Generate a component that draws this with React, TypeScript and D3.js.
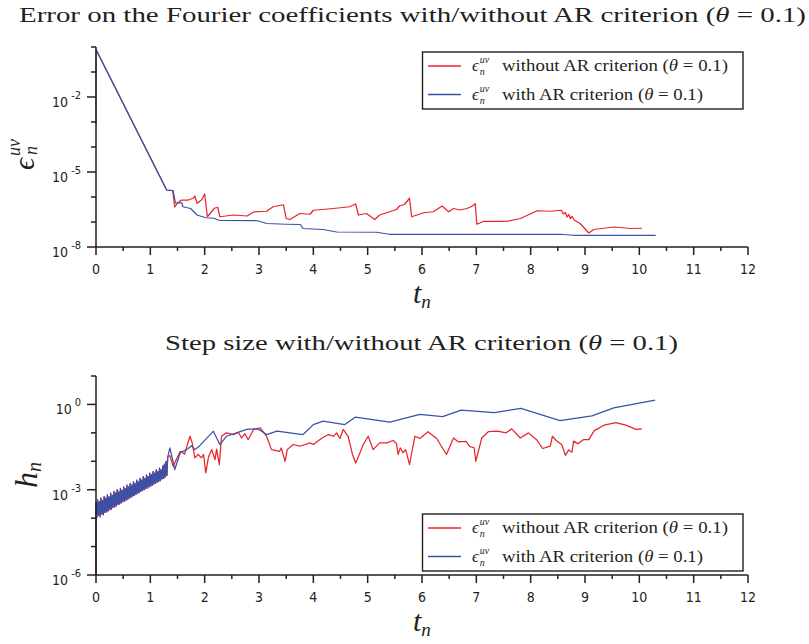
import React from "react";
import * as d3 from "d3";

// x axis (t_n)
const xTicks = [0, 1, 2, 3, 4, 5, 6, 7, 8, 9, 10, 11, 12];
const xMinorTicks = [0.5, 1.5, 2.5, 3.5, 4.5, 5.5, 6.5, 7.5, 8.5, 9.5, 10.5, 11.5];

// top panel: error on the Fourier coefficients (log10 values)
const errDecades = [-8, -7, -6, -5, -4, -3, -2, -1, 0];
const errLabeled = [-8, -5, -2];

const errRedT = [0, 1.3, 1.41, 1.45, 1.5, 1.57, 1.7, 1.79, 1.82, 1.86, 1.95, 2.0, 2.05, 2.18, 2.24, 2.28, 2.53, 2.78, 2.9, 3.14, 3.26, 3.45, 3.5, 3.57, 3.75, 3.94, 4.0, 4.37, 4.67, 4.78, 4.83, 4.98, 5.13, 5.22, 5.53, 5.59, 5.68, 5.77, 5.81, 6.03, 6.21, 6.37, 6.49, 6.58, 6.7, 6.83, 6.92, 6.98, 7.01, 7.14, 7.57, 7.81, 8.12, 8.36, 8.57, 8.6, 8.64, 8.67, 8.7, 8.73, 8.76, 8.8, 8.91, 9.07, 9.16, 9.53, 9.84, 10.05];
const errRedE = [-0.1, -5.72, -5.74, -6.4, -6.25, -6.12, -6.12, -6.05, -5.96, -6.25, -6.1, -5.88, -6.79, -6.45, -6.41, -6.79, -6.72, -6.76, -6.6, -6.57, -6.39, -6.31, -6.86, -6.9, -6.66, -6.69, -6.53, -6.46, -6.39, -6.28, -6.72, -6.66, -6.9, -6.72, -6.5, -6.35, -6.3, -6.05, -6.79, -6.63, -6.59, -6.36, -6.59, -6.46, -6.52, -6.46, -6.37, -6.27, -7.09, -6.97, -6.97, -6.86, -6.55, -6.57, -6.53, -6.68, -6.62, -6.8, -6.7, -6.86, -6.78, -6.92, -7.06, -7.44, -7.3, -7.2, -7.26, -7.25];

const errBlueT = [0, 0, 1.3, 1.42, 1.46, 1.58, 1.6, 1.74, 1.86, 2.02, 2.17, 2.28, 2.98, 3.14, 3.5, 3.76, 3.81, 4.18, 4.43, 5.16, 5.4, 8.54, 8.79, 10.3];
const errBlueE = [-3.1, -0.1, -5.72, -5.74, -6.23, -6.23, -6.39, -6.46, -6.72, -6.83, -6.85, -6.94, -6.95, -7.06, -7.09, -7.1, -7.26, -7.3, -7.4, -7.41, -7.49, -7.49, -7.53, -7.53];

// bottom panel: step size (log10 values)
const stepDecades = [-6, -5, -4, -3, -2, -1, 0, 1];
const stepLabeled = [-6, -3, 0];

// early oscillating phase, shared by both runs
const stepStartT = [0, 0, 0.015, 0.03, 0.045, 0.06, 0.075, 0.09, 0.105, 0.12, 0.135, 0.15, 0.165, 0.18, 0.195, 0.21, 0.225, 0.24, 0.255, 0.27, 0.285, 0.3, 0.315, 0.33, 0.345, 0.36, 0.375, 0.39, 0.405, 0.42, 0.435, 0.45, 0.465, 0.48, 0.495, 0.51, 0.525, 0.54, 0.555, 0.57, 0.585, 0.6, 0.615, 0.63, 0.645, 0.66, 0.675, 0.69, 0.705, 0.72, 0.735, 0.75, 0.765, 0.78, 0.795, 0.81, 0.825, 0.84, 0.855, 0.87, 0.885, 0.9, 0.915, 0.93, 0.945, 0.96, 0.975, 0.99, 1.005, 1.02, 1.035, 1.05, 1.065, 1.08, 1.095, 1.11, 1.125, 1.14, 1.155, 1.17, 1.185, 1.2, 1.215, 1.23, 1.245, 1.26, 1.275, 1.29, 1.305, 1.32];
const stepStartE = [-6, -3.45, -3.98, -3.36, -3.9, -3.42, -3.95, -3.3, -3.85, -3.38, -3.88, -3.24, -3.8, -3.3, -3.78, -3.18, -3.74, -3.25, -3.7, -3.12, -3.68, -3.2, -3.62, -3.06, -3.6, -3.12, -3.57, -3.0, -3.52, -3.08, -3.5, -2.95, -3.46, -3.02, -3.42, -2.9, -3.4, -2.96, -3.36, -2.84, -3.33, -2.9, -3.3, -2.78, -3.26, -2.84, -3.22, -2.72, -3.2, -2.78, -3.16, -2.66, -3.13, -2.72, -3.1, -2.6, -3.06, -2.66, -3.03, -2.54, -3.0, -2.6, -2.96, -2.48, -2.94, -2.54, -2.9, -2.42, -2.87, -2.48, -2.84, -2.36, -2.8, -2.42, -2.77, -2.3, -2.74, -2.36, -2.7, -2.24, -2.68, -2.3, -2.62, -2.16, -2.6, -2.1, -2.55, -2.0, -2.5, -1.85];

const stepRedT = [1.36, 1.42, 1.55, 1.63, 1.73, 1.77, 1.82, 1.88, 1.94, 1.98, 2.02, 2.07, 2.13, 2.19, 2.22, 2.27, 2.31, 2.4, 2.53, 2.62, 2.68, 2.74, 2.8, 2.9, 3.02, 3.14, 3.23, 3.38, 3.41, 3.48, 3.52, 3.63, 3.75, 3.94, 4.0, 4.16, 4.28, 4.37, 4.43, 4.49, 4.55, 4.64, 4.72, 4.78, 4.82, 4.92, 5.01, 5.1, 5.22, 5.35, 5.47, 5.53, 5.56, 5.6, 5.65, 5.7, 5.77, 5.81, 5.87, 5.96, 6.11, 6.27, 6.45, 6.58, 6.67, 6.81, 6.88, 6.96, 6.99, 7.1, 7.22, 7.39, 7.55, 7.65, 7.81, 7.96, 8.11, 8.22, 8.36, 8.4, 8.48, 8.57, 8.64, 8.7, 8.76, 8.79, 8.87, 8.97, 9.07, 9.17, 9.35, 9.57, 9.75, 9.94, 10.05];
const stepRedE = [-1.8, -2.18, -1.65, -1.75, -1.12, -1.35, -1.88, -1.76, -1.88, -1.76, -2.41, -1.85, -1.59, -1.94, -1.57, -2.12, -1.12, -1.0, -1.06, -0.98, -1.18, -1.03, -1.24, -0.88, -0.82, -1.12, -1.59, -1.65, -1.53, -2.0, -1.59, -1.41, -1.47, -1.35, -1.41, -1.18, -1.06, -1.12, -1.0, -1.2, -0.88, -1.12, -1.76, -2.06, -1.88, -1.41, -1.12, -1.59, -1.35, -1.35, -1.27, -1.38, -1.76, -1.53, -1.7, -1.59, -2.12, -1.7, -1.12, -1.2, -0.96, -1.2, -1.76, -1.18, -1.32, -1.3, -1.48, -1.53, -2.0, -1.18, -0.96, -0.94, -1.0, -0.86, -1.18, -1.0, -1.24, -1.55, -1.47, -1.12, -1.29, -1.41, -1.79, -1.6, -1.68, -1.29, -1.38, -1.24, -1.24, -0.92, -0.73, -0.64, -0.73, -0.88, -0.86];

const stepBlueT = [1.36, 1.45, 1.55, 1.67, 1.76, 1.82, 1.91, 2.16, 2.28, 2.4, 2.59, 2.77, 2.98, 3.14, 3.33, 3.57, 3.81, 4.0, 4.18, 4.58, 4.77, 5.41, 5.96, 6.38, 6.72, 7.33, 7.82, 8.54, 9.13, 9.53, 10.29];
const stepBlueE = [-1.53, -2.29, -1.7, -1.59, -1.45, -1.59, -1.45, -0.94, -1.41, -1.12, -1.0, -0.88, -0.86, -1.06, -0.94, -1.0, -1.06, -0.71, -0.59, -0.71, -0.45, -0.62, -0.35, -0.43, -0.2, -0.29, -0.14, -0.57, -0.4, -0.12, 0.15];

const RED = "#e8242b";
const BLUE = "#3a51a6";
const AXIS = "#231f20";
const SERIF = "'Liberation Serif', 'DejaVu Serif', serif";
const SANS = "'DejaVu Sans Condensed', 'Liberation Sans Narrow', 'DejaVu Sans', sans-serif";

const X0 = 96;
const X1 = 748;

type Series = { t: number[]; e: number[]; color: string };

const xScale = d3.scaleLinear().domain([0, 12]).range([X0, X1]);

function Legend({ y }: { y: number }) {
  const rows = [
    { color: RED, text: "without AR criterion (", len: 226 },
    { color: BLUE, text: "with AR criterion (", len: 201 },
  ];
  return (
    <g>
      <rect x={422.5} y={y} width={320.5} height={57} fill="#fff" stroke={AXIS} strokeWidth={1.4} />
      {rows.map((r, i) => {
        const cy = y + 14 + i * 28.5;
        return (
          <g key={i} fill="#231f20">
            <line x1={428} x2={461} y1={cy} y2={cy} stroke={r.color} strokeWidth={1.3} />
            <text x={472} y={cy + 5} fontFamily={SERIF} fontSize={17} fontStyle="italic">
              ϵ
              <tspan dx={1} dy={-8} fontSize={10}>uv</tspan>
              <tspan dx={-9.5} dy={12} fontSize={10}>n</tspan>
            </text>
            <text x={502} y={cy + 5} fontFamily={SERIF} fontSize={16} textLength={r.len} lengthAdjust="spacingAndGlyphs">
              {r.text}
              <tspan fontStyle="italic">θ</tspan>
              {" = 0.1)"}
            </text>
          </g>
        );
      })}
    </g>
  );
}

function Panel({
  top,
  bottom,
  decades,
  labeled,
  series,
  legendY,
  xLabelY,
}: {
  top: number;
  bottom: number;
  decades: number[];
  labeled: number[];
  series: Series[];
  legendY: number;
  xLabelY: number;
}) {
  const yScale = d3
    .scaleLog()
    .domain([Math.pow(10, decades[0]), Math.pow(10, decades[decades.length - 1])])
    .range([bottom, top]);
  const line = d3
    .line<[number, number]>()
    .x((d) => xScale(d[0]))
    .y((d) => yScale(Math.pow(10, d[1])));
  return (
    <g>
      {series.map((s, i) => (
        <path
          key={i}
          d={line(s.t.map((t, k) => [t, s.e[k]]))!}
          fill="none"
          stroke={s.color}
          strokeWidth={1.25}
          strokeLinejoin="round"
        />
      ))}
      {/* axes */}
      <line x1={X0} x2={X0} y1={top} y2={bottom} stroke={AXIS} strokeWidth={1.5} />
      <line x1={X0} x2={X1} y1={bottom} y2={bottom} stroke={AXIS} strokeWidth={1.5} />
      {decades.map((d) => {
        const y = yScale(Math.pow(10, d));
        const isLab = labeled.includes(d);
        return (
          <g key={d}>
            <line x1={isLab ? X0 - 9 : X0 - 5} x2={X0} y1={y} y2={y} stroke={AXIS} strokeWidth={1.5} />
            {isLab && (
              <text x={81} y={y + 10} textAnchor="end" fontFamily={SANS} fontSize={14} fill="#231f20">
                10
                <tspan dx={3} dy={-8} fontSize={11}>
                  {d < 0 ? "-" + Math.abs(d) : String(d)}
                </tspan>
              </text>
            )}
          </g>
        );
      })}
      {xTicks.map((t) => (
        <g key={t}>
          <line x1={xScale(t)} x2={xScale(t)} y1={bottom} y2={bottom + 8} stroke={AXIS} strokeWidth={1.5} />
          <text x={xScale(t)} y={bottom + 27} textAnchor="middle" fontFamily={SANS} fontSize={14} fill="#231f20">
            {t}
          </text>
        </g>
      ))}
      {xMinorTicks.map((t) => (
        <line key={t} x1={xScale(t)} x2={xScale(t)} y1={bottom} y2={bottom + 4} stroke={AXIS} strokeWidth={1.5} />
      ))}
      <text x={413} y={xLabelY} fontFamily={SERIF} fontSize={30} fontStyle="italic" fill="#231f20">
        t
        <tspan dy={5} fontSize={19}>n</tspan>
      </text>
      <Legend y={legendY} />
    </g>
  );
}

export default function App() {
  const stepRed = { t: stepStartT.concat(stepRedT), e: stepStartE.concat(stepRedE), color: RED };
  const stepBlue = { t: stepStartT.concat(stepBlueT), e: stepStartE.concat(stepBlueE), color: BLUE };
  return (
    <svg width={809} height={644} style={{ position: "absolute", left: 0, top: 0, background: "#fff" }}>
      <text x={19} y={22} fontFamily={SERIF} fontSize={22} textLength={787} lengthAdjust="spacingAndGlyphs" fill="#231f20">
        Error on the Fourier coefficients with/without AR criterion (<tspan fontStyle="italic">θ</tspan> = 0.1)
      </text>
      <Panel
        top={47}
        bottom={247}
        decades={errDecades}
        labeled={errLabeled}
        series={[
          { t: errRedT, e: errRedE, color: RED },
          { t: errBlueT, e: errBlueE, color: BLUE },
        ]}
        legendY={52}
        xLabelY={303}
      />
      <g transform="translate(34,170) rotate(-90)" fill="#231f20">
        <text x={0} y={0} fontFamily={SERIF} fontSize={30} fontStyle="italic">
          ϵ
          <tspan dx={2} dy={-14} fontSize={18}>uv</tspan>
          <tspan dx={-16} dy={17} fontSize={18}>n</tspan>
        </text>
      </g>

      <text x={165} y={350} fontFamily={SERIF} fontSize={22} textLength={513} lengthAdjust="spacingAndGlyphs" fill="#231f20">
        Step size with/without AR criterion (<tspan fontStyle="italic">θ</tspan> = 0.1)
      </text>
      <Panel
        top={376}
        bottom={575}
        decades={stepDecades}
        labeled={stepLabeled}
        series={[stepRed, stepBlue]}
        legendY={514}
        xLabelY={631}
      />
      <g transform="translate(37,488) rotate(-90)" fill="#231f20">
        <text x={0} y={0} fontFamily={SERIF} fontSize={32} fontStyle="italic">
          h
          <tspan dy={4} fontSize={20}>n</tspan>
        </text>
      </g>
    </svg>
  );
}
